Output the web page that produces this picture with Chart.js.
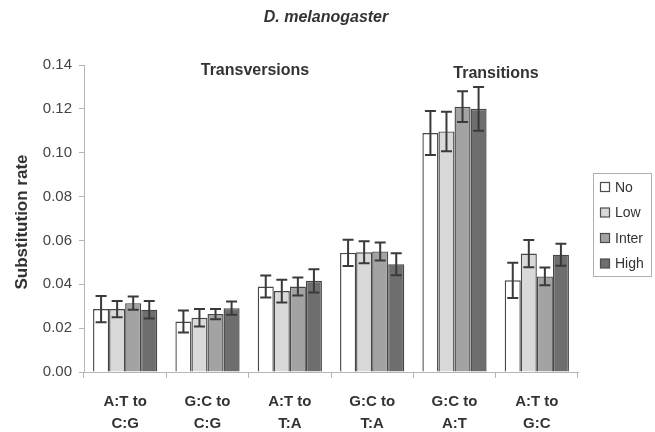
<!DOCTYPE html>
<html>
<head>
<meta charset="utf-8">
<script src="https://cdn.jsdelivr.net/npm/chart.js@4/dist/chart.umd.min.js"></script>
<style>
  html, body { margin: 0; padding: 0; background: #fff; }
  #wrap { width: 655px; height: 432px; position: relative; }
</style>
</head>
<body>
<div id="wrap"><canvas id="c" width="655" height="432"></canvas></div>
<script>
// Substitution classes on the x axis
const categories = [
  ['A:T to', 'C:G'],
  ['G:C to', 'C:G'],
  ['A:T to', 'T:A'],
  ['G:C to', 'T:A'],
  ['G:C to', 'A:T'],
  ['A:T to', 'G:C']
];

// Mean substitution rate per class and exposure level
const seriesNames = ['No', 'Low', 'Inter', 'High'];
const noRate    = [0.0287, 0.0230, 0.0390, 0.0543, 0.1090, 0.0418];
const lowRate   = [0.0287, 0.0247, 0.0369, 0.0546, 0.1097, 0.0540];
const interRate = [0.0314, 0.0264, 0.0390, 0.0550, 0.1210, 0.0436];
const highRate  = [0.0284, 0.0291, 0.0416, 0.0491, 0.1200, 0.0535];

// Half-width of the error bars (± standard error)
const noErr    = [0.0060, 0.0050, 0.0050, 0.0060, 0.0100, 0.0080];
const lowErr   = [0.0037, 0.0040, 0.0052, 0.0050, 0.0090, 0.0062];
const interErr = [0.0030, 0.0023, 0.0041, 0.0041, 0.0070, 0.0040];
const highErr  = [0.0040, 0.0030, 0.0053, 0.0050, 0.0100, 0.0050];

// Y axis tick values
const yTicks = [0, 0.02, 0.04, 0.06, 0.08, 0.10, 0.12, 0.14];

const fills = ['#ffffff', '#d9d9d9', '#a3a3a3', '#6e6e6e'];
const rates = [noRate, lowRate, interRate, highRate];
const errs  = [noErr, lowErr, interErr, highErr];

const datasets = seriesNames.map((name, i) => ({
  label: name,
  data: rates[i],
  errors: errs[i],
  backgroundColor: fills[i],
  borderColor: '#474747',
  borderWidth: 1.4,
  barPercentage: 1.0,
  categoryPercentage: 0.78
}));

// Error bars drawn through the y scale
const errorBars = {
  id: 'errorBars',
  afterDatasetsDraw(chart) {
    const ctx = chart.ctx;
    const ys = chart.scales.y;
    ctx.save();
    ctx.strokeStyle = '#3a3a3a';
    ctx.lineWidth = 2;
    chart.data.datasets.forEach((ds, di) => {
      const meta = chart.getDatasetMeta(di);
      meta.data.forEach((bar, i) => {
        const v = ds.data[i], e = ds.errors[i];
        const x = bar.x;
        const yTop = ys.getPixelForValue(v + e);
        const yBot = ys.getPixelForValue(v - e);
        const cap = 5.5;
        ctx.beginPath();
        ctx.moveTo(x, yTop); ctx.lineTo(x, yBot);
        ctx.moveTo(x - cap, yTop); ctx.lineTo(x + cap, yTop);
        ctx.moveTo(x - cap, yBot); ctx.lineTo(x + cap, yBot);
        ctx.stroke();
      });
    });
    ctx.restore();
  }
};

// Title, group headings, y title and the boxed legend
const annotations = {
  id: 'annotations',
  afterDraw(chart) {
    const ctx = chart.ctx;
    ctx.save();
    ctx.textAlign = 'center';
    ctx.textBaseline = 'middle';
    ctx.fillStyle = '#333333';
    ctx.font = 'italic bold 16px "Liberation Sans", Arial, sans-serif';
    ctx.fillText('D. melanogaster', 326, 18);

    ctx.font = 'bold 16px "Liberation Sans", Arial, sans-serif';
    ctx.fillText('Transversions', 255, 71);
    ctx.fillText('Transitions', 496, 74);

    ctx.save();
    ctx.translate(22, 222);
    ctx.rotate(-Math.PI / 2);
    ctx.font = 'bold 17px "Liberation Sans", Arial, sans-serif';
    ctx.fillText('Substitution rate', 0, 0);
    ctx.restore();

    // legend
    const lx = 593, ly = 173, lw = 58, lh = 103;
    ctx.strokeStyle = '#b0b0b0';
    ctx.lineWidth = 1;
    ctx.strokeRect(lx + 0.5, ly + 0.5, lw, lh);
    ctx.textAlign = 'left';
    ctx.font = '14px "Liberation Sans", Arial, sans-serif';
    chart.data.datasets.forEach((ds, i) => {
      const cy = 187 + i * 25.5;
      ctx.fillStyle = ds.backgroundColor;
      ctx.fillRect(600.5, cy - 4.5, 9, 9);
      ctx.strokeStyle = '#4d4d4d';
      ctx.lineWidth = 1.2;
      ctx.strokeRect(600.5, cy - 4.5, 9, 9);
      ctx.fillStyle = '#333333';
      ctx.fillText(ds.label, 615, cy + 1);
    });
    ctx.restore();
  }
};

new Chart(document.getElementById('c'), {
  type: 'bar',
  data: { labels: categories, datasets },
  plugins: [errorBars, annotations],
  options: {
    responsive: false,
    animation: false,
    layout: { padding: { top: 65, right: 77, left: 0, bottom: 0 } },
    plugins: {
      legend: { display: false },
      tooltip: { enabled: false }
    },
    scales: {
      x: {
        offset: true,
        grid: {
          offset: true,
          drawOnChartArea: false,
          drawTicks: true,
          tickLength: 6,
          color: '#b5b5b5'
        },
        border: { display: true, color: '#b5b5b5', width: 1 },
        ticks: {
          color: '#333333',
          font: { family: '"Liberation Sans", Arial, sans-serif', size: 15, weight: 'bold', lineHeight: 1.45 },
          padding: 13,
          maxRotation: 0,
          autoSkip: false
        },
        afterFit(scale) { scale.height = 60; }
      },
      y: {
        min: 0,
        max: 0.14,
        afterBuildTicks(scale) { scale.ticks = yTicks.map(v => ({ value: v })); },
        grid: {
          drawOnChartArea: false,
          drawTicks: true,
          tickLength: 5,
          color: '#b5b5b5'
        },
        border: { display: true, color: '#b5b5b5', width: 1 },
        ticks: {
          color: '#444444',
          font: { family: '"Liberation Sans", Arial, sans-serif', size: 15 },
          padding: 7,
          callback: v => Number(v).toFixed(2)
        },
        afterFit(scale) { scale.width = 84; }
      }
    }
  }
});
</script>
</body>
</html>
